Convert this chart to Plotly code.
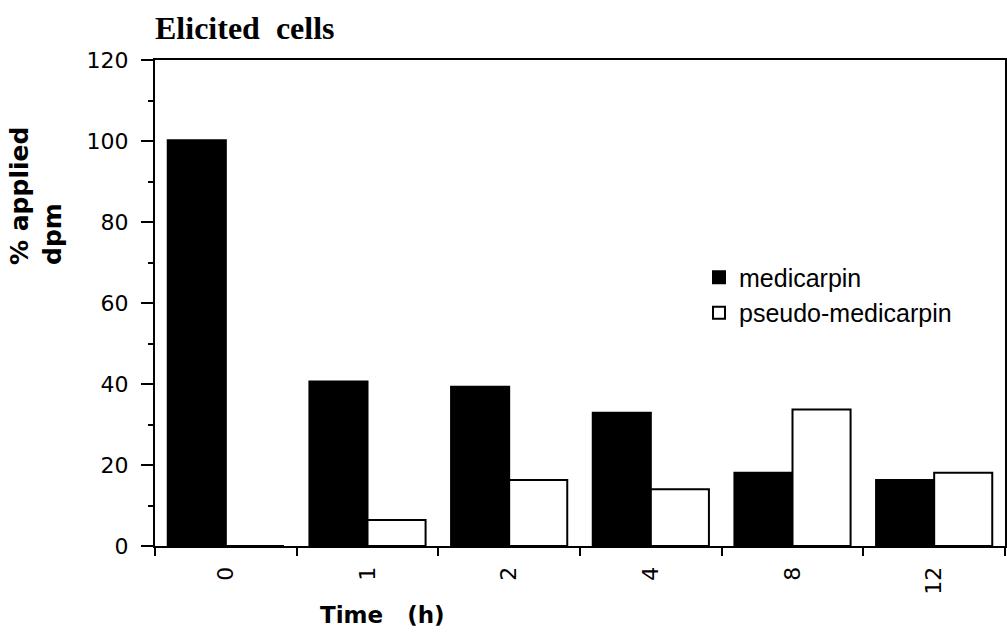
import plotly.graph_objects as go

categories = ["0", "1", "2", "4", "8", "12"]
medicarpin = [100.2, 40.6, 39.3, 32.9, 18.1, 16.3]
pseudo_medicarpin = [0, 6.4, 16.3, 14.0, 33.7, 18.1]
y_ticks = [0, 20, 40, 60, 80, 100, 120]

fig = go.Figure()
fig.add_trace(go.Bar(
    x=categories, y=medicarpin, name="medicarpin",
    marker=dict(color="black", line=dict(color="black", width=2)),
))
fig.add_trace(go.Bar(
    x=categories, y=pseudo_medicarpin, name="pseudo-medicarpin",
    marker=dict(color="white", line=dict(color="black", width=2)),
))

fig.update_layout(
    width=1007, height=632,
    margin=dict(l=155, r=2, t=60, b=86),
    paper_bgcolor="white", plot_bgcolor="white",
    barmode="group", bargap=0.18, bargroupgap=0,
    title=dict(
        text="<b>Elicited\u00a0\u00a0cells</b>",
        font=dict(family="Liberation Serif", size=32, color="black"),
        x=155 / 1007, xref="container", xanchor="left",
        y=1 - 28 / 632, yref="container", yanchor="middle",
    ),
    legend=dict(
        x=0.64, y=0.60, xanchor="left", yanchor="top",
        font=dict(family="Liberation Sans", size=25, color="black"),
        bgcolor="rgba(0,0,0,0)", tracegroupgap=0,
    ),
    showlegend=True,
)

fig.update_xaxes(
    type="category", showline=True, linecolor="black", linewidth=2, mirror=True,
    ticks="outside", tickson="boundaries", ticklen=8, tickwidth=2, tickcolor="black",
    tickangle=-90, ticklabelstandoff=10,
    tickfont=dict(family="DejaVu Sans", size=22, color="black"),
    showgrid=False, automargin=False,
)
fig.update_yaxes(
    range=[0, 120], tickvals=y_ticks, showline=True, linecolor="black", linewidth=2,
    mirror=True, ticks="outside", ticklen=12, tickwidth=2, tickcolor="black",
    minor=dict(dtick=10, ticks="outside", ticklen=5, tickwidth=2, tickcolor="black"),
    tickfont=dict(family="DejaVu Sans", size=22, color="black"),
    showgrid=False, zeroline=False, ticklabelstandoff=8, automargin=False,
)

fig.add_annotation(
    text="<b>% applied<br>dpm</b>", textangle=-90, align="left",
    font=dict(family="DejaVu Sans", size=25, color="black"),
    xref="paper", yref="paper", x=(36 - 155) / 850, y=(546 - 196) / 486,
    xanchor="center", yanchor="middle", showarrow=False,
)
fig.add_annotation(
    text="<b>Time\u00a0\u00a0\u00a0(h)</b>",
    font=dict(family="DejaVu Sans", size=23, color="black"),
    xref="paper", yref="paper", x=(382 - 155) / 850, y=(546 - 615) / 486,
    xanchor="center", yanchor="middle", showarrow=False,
)

fig.write_html(
    "out.html",
    config={"displayModeBar": False},
    post_script="document.body.style.margin='0';document.body.style.overflow='hidden';",
)
